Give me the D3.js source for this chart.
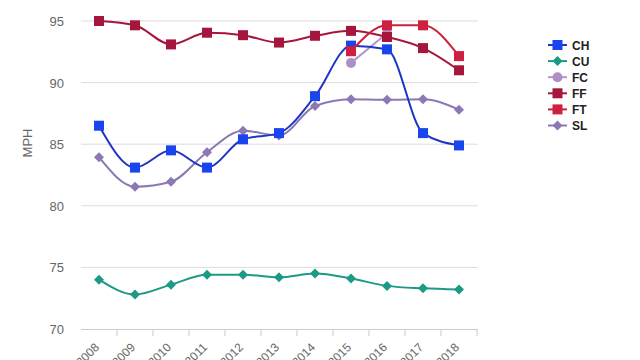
<!DOCTYPE html>
<html><head><meta charset="utf-8">
<script src="https://cdn.jsdelivr.net/npm/d3@7"></script>
<style>body{margin:0;background:#fff}svg{display:block;font-family:"Liberation Sans",Arial,sans-serif}</style>
</head><body><svg id="c" width="640" height="360"></svg>
<script>
const years = ["2008","2009","2010","2011","2012","2013","2014","2015","2016","2017","2018"];
const yTicks = [70,75,80,85,90,95];
const CH = [86.5,83.1,84.5,83.1,85.4,85.9,88.9,93.0,92.7,85.9,84.9];
const CU = [74.0,72.8,73.6,74.4,74.4,74.2,74.5,74.1,73.5,73.3,73.2];
const FC = [null,null,null,null,null,null,null,91.6,94.0,null,null];
const FF = [95.0,94.65,93.1,94.05,93.85,93.25,93.8,94.2,93.7,92.8,91.0];
const FT = [null,null,null,null,null,null,null,92.55,94.65,94.65,92.15];
const SL = [83.95,81.55,81.95,84.35,86.1,85.7,88.1,88.65,88.6,88.65,87.8];
const seriesNames = ["CH","CU","FC","FF","FT","SL"];
const seriesData = {CH,CU,FC,FF,FT,SL};
const style = {
  CH:{line:"#1f36c4",mark:"#1a44ee",shape:"square"},
  CU:{line:"#1d9a85",mark:"#1d9a85",shape:"diamond"},
  FC:{line:"#b696cb",mark:"#b08fc8",shape:"circle"},
  FF:{line:"#a6163c",mark:"#a6163c",shape:"square"},
  FT:{line:"#cf213f",mark:"#cf213f",shape:"square"},
  SL:{line:"#8b78b4",mark:"#8b78b4",shape:"diamond"}
};
const svg = d3.select("#c");
const x = d3.scaleBand().domain(years).range([81,477]);
const y = d3.scaleLinear().domain([70,95]).range([329,21]);
const g = svg.append("g");
// grid
g.selectAll("line.grid").data(yTicks.filter(t=>t>70)).join("line")
  .attr("x1",81).attr("x2",478).attr("y1",d=>y(d)).attr("y2",d=>y(d))
  .attr("stroke","#dcdcdc").attr("stroke-width",1);
// y labels
g.selectAll("text.yl").data(yTicks).join("text")
  .attr("x",64).attr("y",d=>y(d)+5).attr("text-anchor","end")
  .attr("font-size",13).attr("fill","#666").text(d=>d);
svg.append("text").attr("transform","translate(32,143) rotate(-90)")
  .attr("text-anchor","middle").attr("font-size",13).attr("fill","#666").text("MPH");
// x axis
g.append("line").attr("x1",81).attr("x2",478).attr("y1",329.5).attr("y2",329.5).attr("stroke","#c8cdd3");
g.selectAll("line.xt").data(years).join("line")
  .attr("x1",d=>x(d)+x.bandwidth()).attr("x2",d=>x(d)+x.bandwidth())
  .attr("y1",329).attr("y2",336).attr("stroke","#c8cdd3");
g.selectAll("text.xl").data(years).join("text")
  .attr("transform",d=>`translate(${x(d)+x.bandwidth()/2+1},${348}) rotate(-45)`)
  .attr("text-anchor","end").attr("font-size",12).attr("fill","#666").text(d=>d);
const cx = (d,i)=>x(years[i])+x.bandwidth()/2;
function marker(sel, shape, color){
  if(shape==="square") sel.append("rect").attr("x",-5).attr("y",-5).attr("width",10).attr("height",10).attr("fill",color);
  else if(shape==="diamond") sel.append("path").attr("d","M0,-5L5,0L0,5L-5,0Z").attr("fill",color);
  else sel.append("circle").attr("r",5).attr("fill",color);
}
const drawOrder = ["FC","SL","CU","CH","FF","FT"];
drawOrder.forEach(name=>{
  const vals = seriesData[name], st = style[name];
  const line = d3.line().defined(v=>v!==null).x(cx).y(v=>y(v)).curve(d3.curveMonotoneX);
  g.append("path").attr("d",line(vals)).attr("fill","none").attr("stroke",st.line).attr("stroke-width",2);
  vals.forEach((v,i)=>{ if(v===null) return;
    const m = g.append("g").attr("transform",`translate(${cx(v,i)},${y(v)})`);
    marker(m, st.shape, st.mark);
  });
});
// legend
const lg = svg.append("g");
seriesNames.forEach((name,i)=>{
  const yy = 45 + i*16.1, st = style[name];
  lg.append("line").attr("x1",548).attr("x2",567).attr("y1",yy).attr("y2",yy).attr("stroke",st.line).attr("stroke-width",2);
  const m = lg.append("g").attr("transform",`translate(557.5,${yy})`);
  marker(m, st.shape, st.mark);
  lg.append("text").attr("x",572).attr("y",yy+4.5).attr("font-size",12).attr("font-weight","bold").attr("fill","#222").text(name);
});
</script></body></html>
